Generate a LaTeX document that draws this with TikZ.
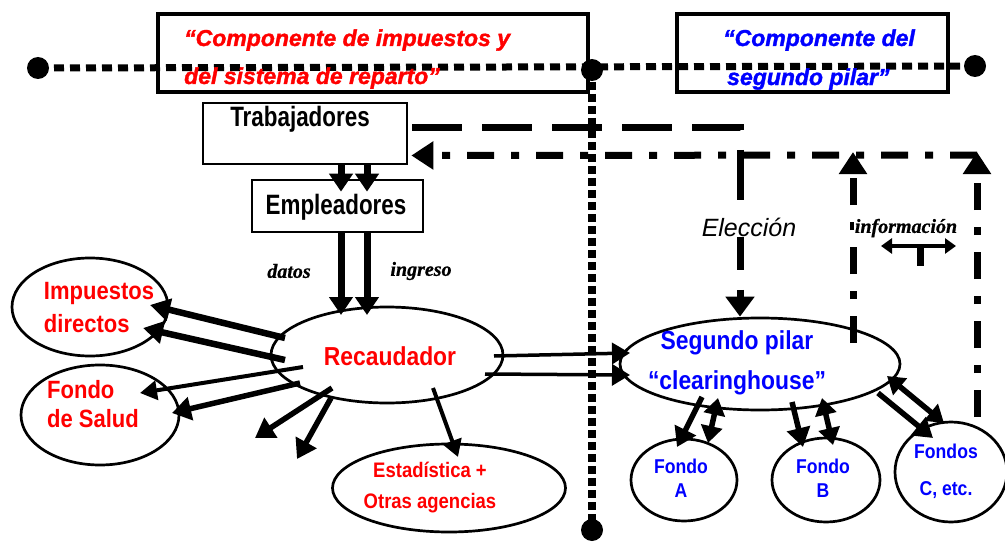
\documentclass[tikz,border=0pt]{standalone}
\usepackage{fontspec}
\setmainfont{Liberation Sans}
\newfontfamily\nsans[FakeStretch=0.88]{Liberation Sans}
\newfontfamily\csans[FakeStretch=0.8]{Liberation Sans}
\newfontfamily\heavy[FakeBold=1.5]{Liberation Sans}
\newfontfamily\tserif[FakeBold=0.8]{Liberation Serif}
\usetikzlibrary{arrows.meta,shapes.geometric,calc}
\definecolor{tred}{RGB}{255,0,0}
\definecolor{tblue}{RGB}{0,0,255}
\begin{document}
\begin{tikzpicture}[x=1pt,y=-1pt,
  ell/.style={draw,line width=2.7pt,ellipse,inner sep=0pt},
  boxnode/.style={draw,line width=2.7pt,inner sep=0pt},
  titlebox/.style={draw,line width=3.5pt,inner sep=0pt},
  dot/.style={circle,fill=black,minimum size=22pt,inner sep=0pt},
  dotline/.style={line width=7pt,dash pattern=on 10pt off 6pt},
  vdotline/.style={line width=8pt,dash pattern=on 8pt off 4pt},
  lbl/.style={font=\nsans\bfseries\fontsize{25}{33}\selectfont,inner sep=0pt},
  lblsm/.style={font=\nsans\bfseries\fontsize{20}{24}\selectfont,inner sep=0pt,tblue,align=center},
  ttl/.style={font=\heavy\bfseries\itshape\fontsize{23}{28}\selectfont,inner sep=0pt,anchor=base west},
  bxt/.style={font=\csans\bfseries\fontsize{28}{30}\selectfont,inner sep=0pt},
  ital/.style={font=\tserif\bfseries\itshape\fontsize{20}{22}\selectfont,inner sep=1pt},
  bigarr/.style={line width=7pt,-{Triangle[length=18pt,width=23pt]}},
  impar/.style={line width=6.5pt,-{Triangle[length=20pt,width=22pt]}},
  medarr/.style={line width=5.5pt,-{Triangle[length=19pt,width=23pt]}},
  thnarr/.style={line width=4pt,-{Triangle[length=17pt,width=19pt]}},
  dblarr/.style={line width=5.5pt,{Triangle[length=17pt,width=21pt]}-{Triangle[length=17pt,width=21pt]}},
  thinarr/.style={line width=3.5pt,-{Triangle[length=18pt,width=21pt]}},
  dashedarr/.style={line width=7pt,dash pattern=on 50pt off 20pt,-{Triangle[length=20pt,width=28pt]}},
  dasharr/.style={line width=7pt,dash pattern=on 27pt off 17pt on 8pt off 17pt,-{Triangle[length=22pt,width=27pt]}}
]
\useasboundingbox (0,0) rectangle (1005,543);

% dotted separators
\node[dot] (d1) at (38,68) {};
\node[dot] (d2) at (592,70) {};
\node[dot] (d3) at (975,66) {};
\node[dot] (d4) at (592,530) {};
\draw[dotline] (d1.center) -- (d3.center);
\draw[vdotline] (d2.center) -- (d4.center);

% title boxes
\node[titlebox,minimum width=430pt,minimum height=78pt] (tbl) at (373,53) {};
\node[titlebox,minimum width=271pt,minimum height=78pt] (tbr) at (812.5,53) {};
\node[ttl,tred] (tl1) at (184,46) {“Componente de impuestos y};
\node[ttl,tred] (tl2) at (184,84) {del sistema de reparto”};
\node[ttl,tblue] (tr1) at (723,46) {“Componente del};
\node[ttl,tblue] (tr2) at (727,85) {segundo pilar”};

% boxes
\node[boxnode,minimum width=204pt,minimum height=61pt] (trab) at (305,133.5) {};
\node[bxt] (trabt) at (300,119) {Trabajadores};
\node[boxnode,minimum width=171pt,minimum height=52pt] (emp) at (337.5,206) {};
\node[bxt] (empt) at (336,207) {Empleadores};

% ellipses
\node[ell,minimum width=156pt,minimum height=98pt] (imp) at (90,307) {};
\node[ell,minimum width=158pt,minimum height=100pt] (sal) at (100,415) {};
\node[ell,minimum width=232pt,minimum height=96pt] (rec) at (387,355) {};
\node[ell,minimum width=233pt,minimum height=88pt] (est) at (449,488) {};
\node[ell,minimum width=280pt,minimum height=92pt] (pil) at (760,364) {};
\node[ell,minimum width=106pt,minimum height=82pt] (fa) at (684,480) {};
\node[ell,minimum width=108pt,minimum height=84pt] (fb) at (826,480) {};
\node[ell,minimum width=112pt,minimum height=100pt] (fc) at (951,472) {};

% ellipse texts
\node[lbl,tred,align=left] (impt) at (99,308) {Impuestos\\directos};
\node[lbl,tred,align=left,anchor=west,font=\nsans\bfseries\fontsize{25}{29}\selectfont] (salt) at (47,404) {Fondo\\de Salud};
\node[lbl,tred,font=\nsans\bfseries\fontsize{26}{30}\selectfont] (rect) at (390,356) {Recaudador};
\node[lbl,tred,align=center,font=\nsans\bfseries\fontsize{21}{31}\selectfont] (estt) at (430,488) {Estadística +\\Otras agencias};
\node[lbl,tblue,align=center,font=\nsans\bfseries\fontsize{26}{40}\selectfont] (pilt) at (737,363) {Segundo pilar\\“clearinghouse”};
\node[lblsm] (fat) at (681,478) {Fondo\\A};
\node[lblsm] (fbt) at (823,478) {Fondo\\B};
\node[lblsm,font=\nsans\bfseries\fontsize{20}{37}\selectfont] (fct) at (946,471) {Fondos\\C, etc.};

\node[ital] (datos) at (289,271) {datos};
\node[ital] (ingr) at (421,271) {ingreso};

% Trabajadores -> Empleadores
\draw[bigarr] ([xshift=36pt]trab.south) -- ([shift={(3.5pt,-13pt)}]emp.north);
\draw[bigarr] ([xshift=62pt]trab.south) -- ([shift={(29.5pt,-13pt)}]emp.north);
% Empleadores -> Recaudador
\draw[bigarr] ([xshift=3.5pt]emp.south) -- ([shift={(-46,-40)}]rec.center);
\draw[bigarr] ([xshift=29.5pt]emp.south) -- ([shift={(-20,-40)}]rec.center);

% Recaudador -> Impuestos / Fondo de Salud
\draw[impar] ([shift={(-102,-17)}]rec.center) -- ([shift={(60,-2)}]imp.center);
\draw[impar] ([shift={(-102,5)}]rec.center) -- ([shift={(53,21)}]imp.center);
\draw[thnarr] ([shift={(-84,12)}]rec.center) -- ([shift={(40,-22)}]sal.center);
\draw[medarr] ([shift={(-87,28)}]rec.center) -- ([shift={(72,-2)}]sal.center);
% free arrows
\coordinate (fr1) at (255,438);
\coordinate (fr2) at (297,459);
\draw[medarr] ([shift={(-55,33)}]rec.center) -- (fr1);
\draw[medarr] ([shift={(-56,43)}]rec.center) -- (fr2);
% Recaudador -> Estadistica
\draw[thnarr] ([shift={(46,33)}]rec.center) -- ([shift={(9,-31)}]est.center);
% Recaudador -> Segundo pilar
\draw[thinarr] ([shift={(107,1)}]rec.center) -- ([shift={(-130,-11)}]pil.center);
\draw[thinarr] ([shift={(98,19)}]rec.center) -- ([shift={(-130,11)}]pil.center);

% Segundo pilar <-> Fondos
\draw[medarr] ([shift={(-58,33)}]pil.center) -- ([shift={(-7,-33)}]fa.center);
\draw[dblarr] ([shift={(-42,34)}]pil.center) -- ([shift={(24,-37)}]fa.center);
\draw[medarr] ([shift={(32,38)}]pil.center) -- ([shift={(-23,-33)}]fb.center);
\draw[dblarr] ([shift={(62,34)}]pil.center) -- ([shift={(7,-35)}]fb.center);
\draw[dblarr] ([shift={(127,12)}]pil.center) -- ([shift={(-7,-49)}]fc.center);
\draw[medarr] ([shift={(118,29)}]pil.center) -- ([shift={(-18,-34)}]fc.center);

% choice (dashed)
\draw[dashedarr] ([shift={(4pt,6pt)}]trab.east) -| ([xshift=-20pt]pil.north);
\node[fill=white,font=\itshape\fontsize{25}{30}\selectfont,inner sep=1pt] (elec) at (749,227) {Elección};

% information (dash-dot)
\coordinate (jl) at (853,152);
\coordinate (jr) at (977,152);
\draw[dasharr] ([yshift=-3pt]jr) -- ([shift={(3pt,-22pt)}]trab.east);
\draw[dasharr] ([shift={(93,-21)}]pil.center) -- (jl);
\draw[dasharr] ([shift={(26,-55)}]fc.center) -- (jr);
\node[fill=white,font=\tserif\bfseries\itshape\fontsize{20}{22}\selectfont,inner sep=1pt] (info) at (906,228) {información};
\coordinate (ia) at (881,246);
\coordinate (ib) at (956,246);
\coordinate (ic) at (920,246);
\coordinate (id) at (920,266);
\draw[line width=4.5pt,{Triangle[length=11pt,width=15pt]}-{Triangle[length=11pt,width=15pt]}] (ia) -- (ib);
\draw[line width=7pt] (ic) -- (id);
\end{tikzpicture}
\end{document}
